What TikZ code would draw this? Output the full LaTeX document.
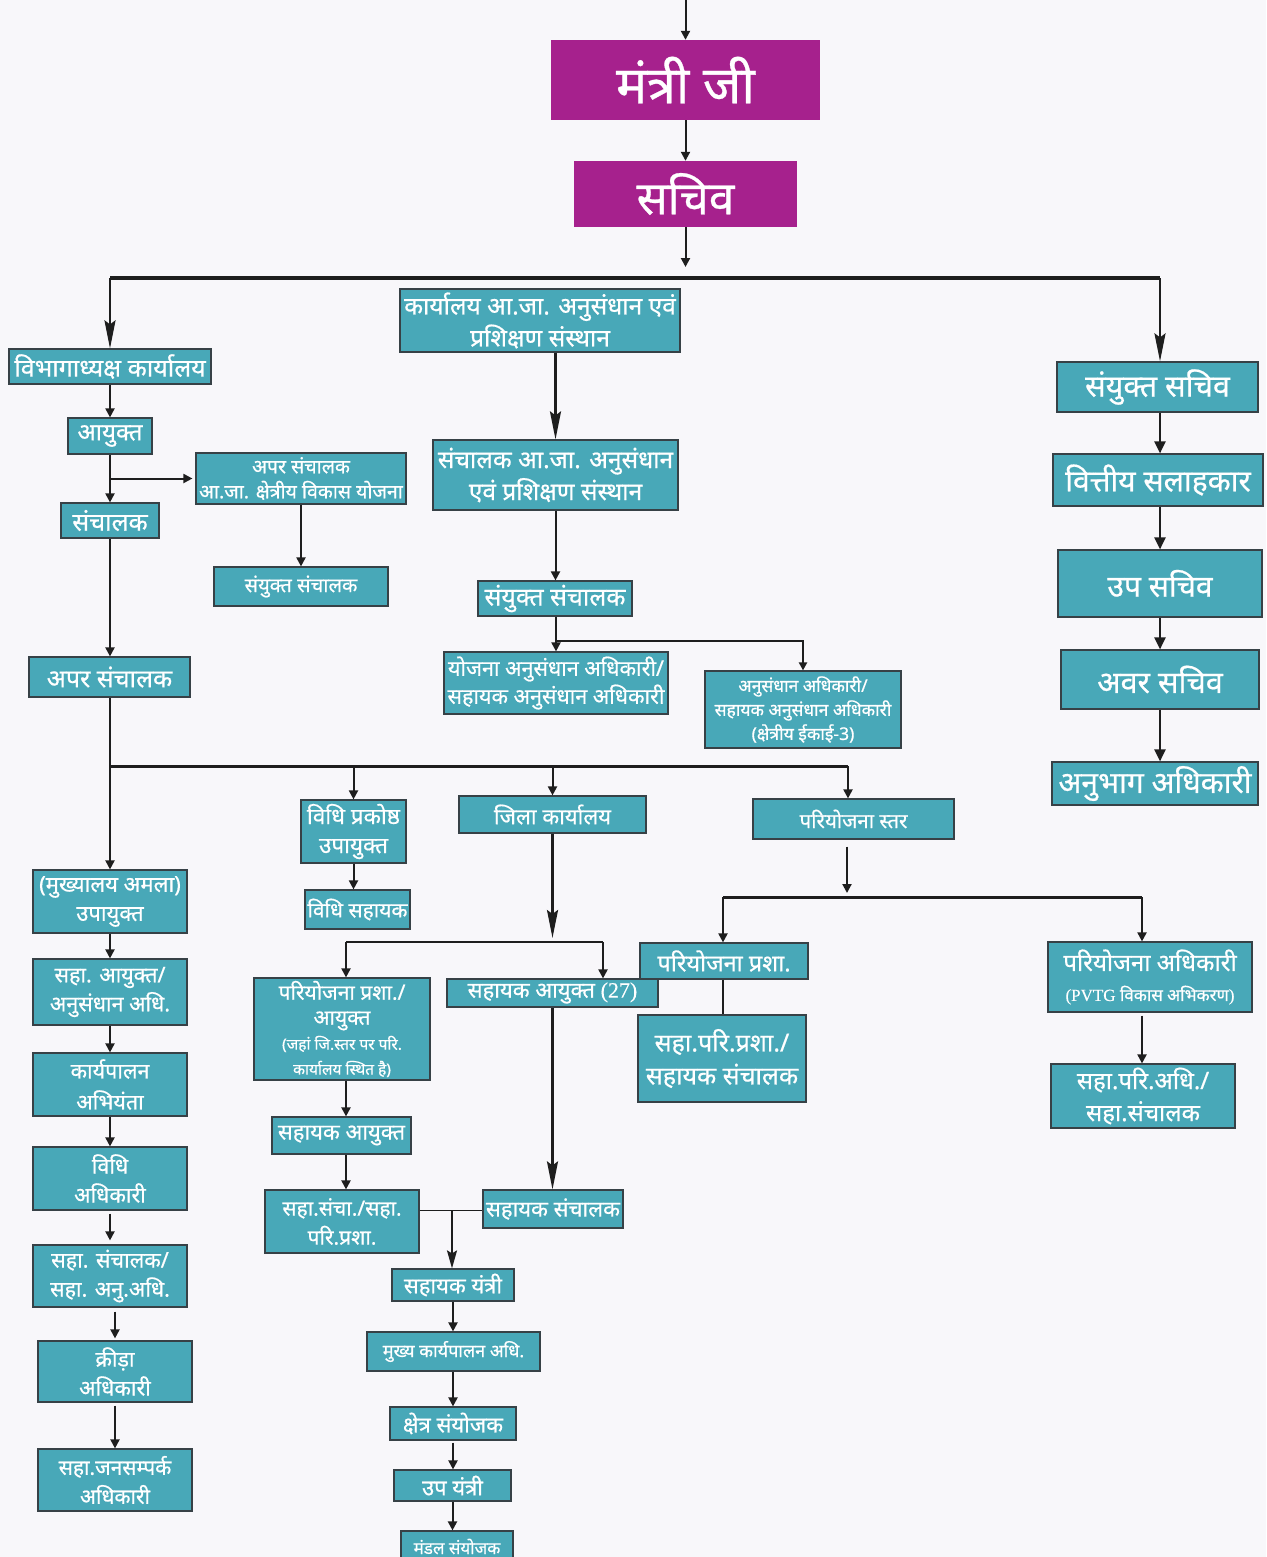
\documentclass[tikz,border=0pt]{standalone}
\usepackage{fontspec}
\setmainfont[Script=Devanagari,FakeBold=0.6]{Noto Sans}
\newfontfamily\lser[FakeBold=0.4]{Liberation Serif}
\usetikzlibrary{arrows.meta}
\definecolor{tealbox}{RGB}{72,168,184}
\definecolor{magbox}{RGB}{166,33,141}
\definecolor{bordr}{RGB}{55,65,70}
\definecolor{bgc}{RGB}{248,247,250}
\definecolor{lnc}{RGB}{30,30,30}
\begin{document}
\begin{tikzpicture}[x=1pt,y=-1pt,
 box/.style={draw=bordr,line width=1.2pt,fill=tealbox,text=white,inner sep=0pt,align=center},
 mbox/.style={fill=magbox,text=white,inner sep=0pt,align=center},
 sz/.style 2 args={minimum width=#1pt,minimum height=#2pt},
 f/.style 2 args={font=\fontsize{#1}{#2}\selectfont},
 ln/.style={draw=lnc,line width=2pt},
 arr/.style={draw=lnc,line width=2pt,-{Triangle[length=9pt,width=9pt]}},
 rarr/.style={draw=lnc,line width=2.2pt,-{Triangle[length=12pt,width=11pt]}},
 midarr/.style={draw=lnc,line width=2pt,-{Stealth[length=18pt,width=10pt,inset=3pt]}},
 bigarr/.style={draw=lnc,line width=2.4pt,-{Stealth[length=28pt,width=11pt,inset=4pt]}},
 hline/.style={draw=lnc,line width=3.5pt},
]
\fill[bgc] (0,0) rectangle (1266,1557);
\path[use as bounding box] (0,0) rectangle (1266,1557);

% top
\node[mbox,sz={269}{80},f={52}{56}] (mantri) at (685.5,80) {\bfseries मंत्री जी};
\node[mbox,sz={223}{66},f={46}{50}] (sachiv) at (685.5,194) {\bfseries सचिव};
\coordinate (topin) at (685.5,0);
\coordinate (sachout) at (685.5,267);
\draw[arr] (topin) -- (mantri.north);
\draw[arr] (mantri.south) -- (sachiv.north);
\draw[arr] (sachiv.south) -- (sachout);

% middle top
\node[box,sz={280}{63},f={24.5}{32}] (karyalay) at (540,320.5) {कार्यालय आ.जा. अनुसंधान एवं\\प्रशिक्षण संस्थान};
\node[box,sz={245}{70},f={24.5}{32}] (sanchAJ) at (555.5,475) {संचालक आ.जा. अनुसंधान\\एवं प्रशिक्षण संस्थान};
\node[box,sz={154}{35},f={25}{28}] (sanyuktM) at (555,598.5) {संयुक्त संचालक};
\node[box,sz={224}{62},f={21.5}{28}] (yojana) at (556,683) {योजना अनुसंधान अधिकारी/\\सहायक अनुसंधान अधिकारी};
\node[box,sz={196}{77},f={17.5}{24}] (anus3) at (803,709.5) {अनुसंधान अधिकारी/\\सहायक अनुसंधान अधिकारी\\(क्षेत्रीय ईकाई-3)};

% left upper
\node[box,sz={202}{35},f={25}{28}] (vibhag) at (110,366.5) {विभागाध्यक्ष कार्यालय};
\node[box,sz={84}{36},f={24}{28}] (ayukt) at (110,436) {आयुक्त};
\node[box,sz={210}{51},f={19.5}{25}] (aparAJ) at (301,478.5) {अपर संचालक\\आ.जा. क्षेत्रीय विकास योजना};
\node[box,sz={174}{39},f={20}{24}] (sanyuktL) at (301,586.5) {संयुक्त संचालक};
\node[box,sz={98}{35},f={25}{28}] (sanchalak) at (110,520.5) {संचालक};
\node[box,sz={161}{40},f={25}{28}] (aparL) at (109.5,677) {अपर संचालक};

% right column
\node[box,sz={201}{50},f={30.5}{34}] (ss) at (1157.5,387) {संयुक्त सचिव};
\node[box,sz={210}{52},f={30}{34}] (vit) at (1158,480) {वित्तीय सलाहकार};
\node[box,sz={204}{67},f={30}{34}] (ups) at (1160,583.5) {उप सचिव};
\node[box,sz={198}{59},f={30.5}{34}] (avar) at (1160,679.5) {अवर सचिव};
\node[box,sz={206}{43},f={30}{34}] (anubhag) at (1155,783.5) {अनुभाग अधिकारी};

% left column
\node[box,sz={154}{63},f={22}{29}] (mukhyalay) at (110,901.5) {(मुख्यालय अमला)\\उपायुक्त};
\node[box,sz={154}{66},f={21.5}{29}] (sahaAyukt) at (110,992) {सहा. आयुक्त/\\अनुसंधान अधि.};
\node[box,sz={154}{63},f={21.5}{31}] (karyapalan) at (110,1084.5) {कार्यपालन\\अभियंता};
\node[box,sz={154}{63},f={21.5}{29}] (vidhiAdh) at (110,1178.5) {विधि\\अधिकारी};
\node[box,sz={154}{62},f={21.5}{29}] (sahaSanch) at (110,1276) {सहा. संचालक/\\सहा. अनु.अधि.};
\node[box,sz={154}{61},f={21.5}{29}] (krida) at (115,1371.5) {क्रीड़ा\\अधिकारी};
\node[box,sz={154}{62},f={21}{29}] (jansampark) at (115,1480) {सहा.जनसम्पर्क\\अधिकारी};

% middle lower
\node[box,sz={105}{63},f={22.5}{29}] (vidhiPrak) at (353.5,831.5) {विधि प्रकोष्ठ\\उपायुक्त};
\node[box,sz={105}{39},f={21}{26}] (vidhiSah) at (357.5,909.5) {विधि सहायक};
\node[box,sz={187}{37},f={22}{26}] (jila) at (552.5,814.5) {जिला कार्यालय};
\node[box,sz={201}{40},f={20.5}{26}] (pStar) at (853.5,819) {परियोजना स्तर};
\node[box,sz={176}{102},f={21}{25}] (ppA) at (342,1029) {परियोजना प्रशा./\\आयुक्त\\{\fontsize{15.5}{21}\selectfont (जहां जि.स्तर पर परि.}\\{\fontsize{15.5}{19}\selectfont कार्यालय स्थित है)}};
\node[box,sz={211}{28},f={22}{26}] (sa27) at (552.5,993) {सहायक आयुक्त {\lser (27)}};
\node[box,sz={168}{36},f={23.5}{26}] (pp) at (724,961) {परियोजना प्रशा.};
\node[box,sz={140}{38},f={22}{26}] (ssM) at (553,1209) {सहायक संचालक};
\node[box,sz={139}{37},f={22}{26}] (saM) at (341.5,1135.5) {सहायक आयुक्त};
\node[box,sz={154}{63},f={21}{29}] (ss2) at (342,1221.5) {सहा.संचा./सहा.\\परि.प्रशा.};
\node[box,sz={122}{32},f={22}{24}] (sy) at (453,1285) {सहायक यंत्री};
\node[box,sz={173}{39},f={18}{22}] (mk) at (453.5,1351.5) {मुख्य कार्यपालन अधि.};
\node[box,sz={126}{33},f={22}{24}] (kshetra) at (453,1423.5) {क्षेत्र संयोजक};
\node[box,sz={117}{31},f={22}{24}] (upy) at (452.5,1485.5) {उप यंत्री};
\node[box,sz={112}{31},f={17}{20}] (mandal) at (457,1546.5) {मंडल संयोजक};

% right lower
\node[box,sz={168}{87},f={25}{33}] (spp) at (722,1058.5) {सहा.परि.प्रशा./\\सहायक संचालक};
\node[box,sz={204}{70},f={24}{30}] (pa) at (1150,977) {परियोजना अधिकारी\\{\fontsize{17}{22}\selectfont{\lser (PVTG} विकास अभिकरण{\lser )}}};
\node[box,sz={184}{64},f={24}{32}] (spa) at (1143,1096) {सहा.परि.अधि./\\सहा.संचालक};

% ---- connectors ----
\coordinate (hl) at (110,278);
\coordinate (hr) at (1160,278);
\draw[hline] (hl) -- (hr);
\draw[bigarr] (hl) -- (vibhag.north);
\draw[bigarr] (hr) -- (hr |- ss.north);
\draw[bigarr] (sanchAJ.north |- karyalay.south) -- (sanchAJ.north);
\draw[arr] (sanchAJ.south) -- (sanchAJ.south |- sanyuktM.north);
\coordinate (br1) at (556,641);
\draw[ln] (sanyuktM.south -| br1) -- (br1);
\draw[arr] (br1) -- (yojana.north);
\draw[draw=lnc,line width=2.5pt,-{Triangle[length=8pt,width=8pt]}] (br1) -| (anus3.north);

% left upper
\draw[arr] (vibhag.south) -- (ayukt.north);
\draw[arr] (ayukt.south) -- (sanchalak.north);
\coordinate (br2) at (110,478.5);
\draw[arr,shorten >=3pt] (br2) -- (aparAJ.west);
\draw[arr] (aparAJ.south) -- (sanyuktL.north);
\draw[arr] (sanchalak.south) -- (sanchalak.south |- aparL.north);
\draw[arr] (aparL.south -| sanchalak.south) -- (mukhyalay.north);

% second horizontal
\coordinate (hl2) at (110,766);
\coordinate (hr2) at (848,766);
\draw[hline,line width=3pt] (hl2) -- (hr2);
\draw[arr] (vidhiPrak.north |- hl2) -- (vidhiPrak.north);
\draw[arr] (jila.north |- hl2) -- (jila.north);
\draw[arr] (hr2) -- (hr2 |- pStar.north);

% left column
\draw[arr] (mukhyalay.south) -- (sahaAyukt.north);
\draw[arr] (sahaAyukt.south) -- (karyapalan.north);
\draw[arr] (karyapalan.south) -- (vidhiAdh.north);
\draw[arr,shorten <=3pt,shorten >=4pt] (vidhiAdh.south) -- (sahaSanch.north);
\draw[arr,shorten <=4pt,shorten >=2pt] (sahaSanch.south -| krida.north) -- (krida.north);
\draw[arr,shorten <=3pt] (krida.south) -- (jansampark.north);

% middle lower
\draw[arr] (vidhiPrak.south) -- (vidhiPrak.south |- vidhiSah.north);
\coordinate (jilaEnd) at (552.5,938);
\draw[bigarr] (jila.south) -- (jilaEnd);
\coordinate (hl3) at (346,942);
\coordinate (hr3) at (603,942);
\draw[draw=lnc,line width=1.4pt] (hl3) -- (hr3);
\draw[arr] (hl3) -- (hl3 |- ppA.north);
\draw[arr] (hr3) -- (hr3 |- sa27.north);
\draw[bigarr] (sa27.south) -- (sa27.south |- ssM.north);
\draw[arr] (ppA.south -| hl3) -- (hl3 |- saM.north);
\draw[arr] (saM.south -| hl3) -- (hl3 |- ss2.north);
\coordinate (j1) at (452,1210);
\draw[draw=lnc,line width=1pt] (ss2.east |- j1) -- (ssM.west |- j1);
\draw[midarr] (j1) -- (j1 |- sy.north);
\draw[arr] (sy.south) -- (sy.south |- mk.north);
\draw[arr] (mk.south -| sy.south) -- (sy.south |- kshetra.north);
\draw[arr,shorten <=2pt] (kshetra.south) -- (kshetra.south |- upy.north);
\draw[arr] (upy.south) -- (upy.south |- mandal.north);

% right lower
\coordinate (j2) at (847,897);
\draw[arr,shorten <=7pt,shorten >=4pt] (pStar.south -| j2) -- (j2);
\coordinate (hl4) at (723,897);
\coordinate (hr4) at (1142,897);
\draw[hline,line width=3pt] (hl4) -- (hr4);
\draw[arr] (hl4) -- (hl4 |- pp.north);
\draw[arr] (hr4) -- (hr4 |- pa.north);
\draw[ln] (pp.south -| hl4) -- (hl4 |- spp.north);
\draw[arr,shorten <=3pt] (pa.south -| hr4) -- (hr4 |- spa.north);

% right column
\draw[rarr] (ss.south -| hr) -- (hr |- vit.north);
\draw[rarr] (vit.south -| hr) -- (hr |- ups.north);
\draw[rarr] (ups.south -| ups.south) -- (ups.south |- avar.north);
\draw[rarr] (avar.south -| hr) -- (hr |- anubhag.north);
\end{tikzpicture}
\end{document}
